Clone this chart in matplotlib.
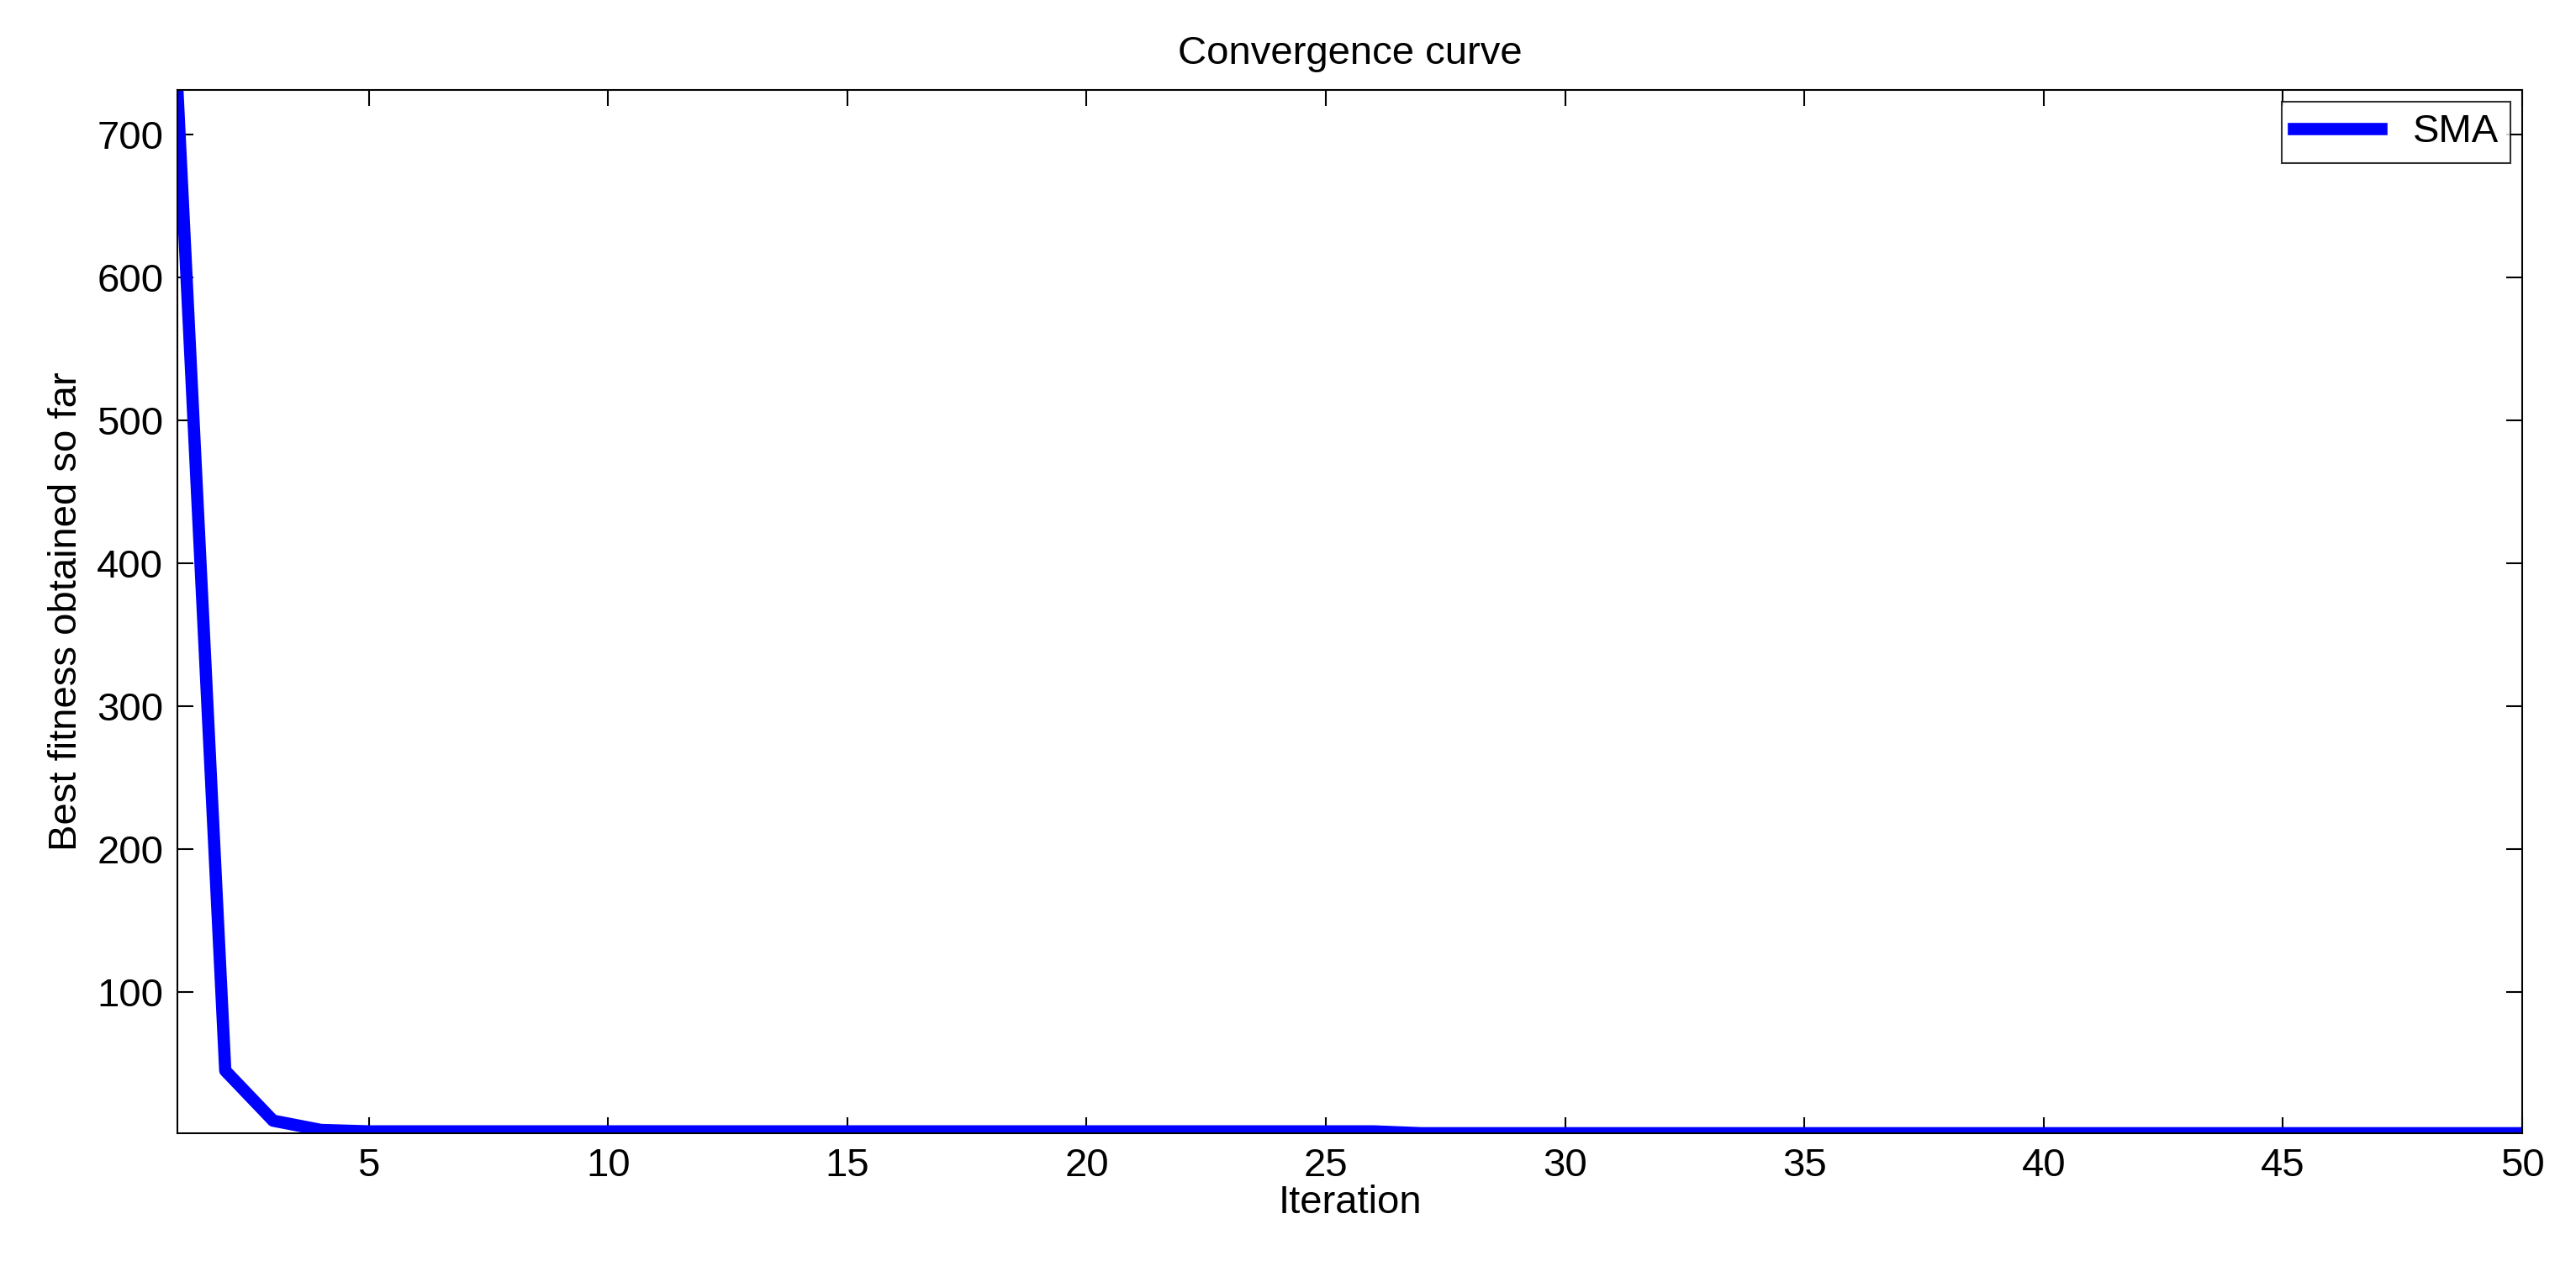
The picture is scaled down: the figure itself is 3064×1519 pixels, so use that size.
import numpy as np
import matplotlib
matplotlib.use('Agg')
import matplotlib.pyplot as plt

plt.rcParams['font.family'] = ['Liberation Sans', 'DejaVu Sans']

# best fitness per iteration
iterations = np.arange(1, 51)
fitness = [731, 45, 10, 3.5] + [2.5] * 22 + [1.2] * 24

fig = plt.figure(figsize=(30.64, 15.19), dpi=100)
ax = fig.add_axes([211 / 3064, 1 - 1348 / 1519, (3000 - 211) / 3064, (1348 - 107) / 1519])
ax.plot(iterations, fitness, color='#0000ff', linewidth=10.5, label='SMA')
ax.set_xlim(1, 50)
ax.set_ylim(min(fitness), max(fitness))
ax.set_xticks([5, 10, 15, 20, 25, 30, 35, 40, 45, 50])
ax.set_yticks([100, 200, 300, 400, 500, 600, 700])
ax.tick_params(labelsize=34, direction='in', length=14, width=1.5, top=True, right=True, pad=12)
for s in ax.spines.values():
    s.set_linewidth(1.5)
ax.set_title('Convergence curve', fontsize=34, pad=22)
ax.set_xlabel('Iteration', fontsize=34, labelpad=0)
ax.set_ylabel('Best fitness obtained so far', fontsize=34, labelpad=10)
leg = ax.legend(loc='upper right', fontsize=34, fancybox=False, edgecolor='black',
                handlelength=2.2, borderpad=0.3, borderaxespad=0.3)
leg.get_frame().set_linewidth(1.5)
fig.savefig('out.png', dpi=100)
